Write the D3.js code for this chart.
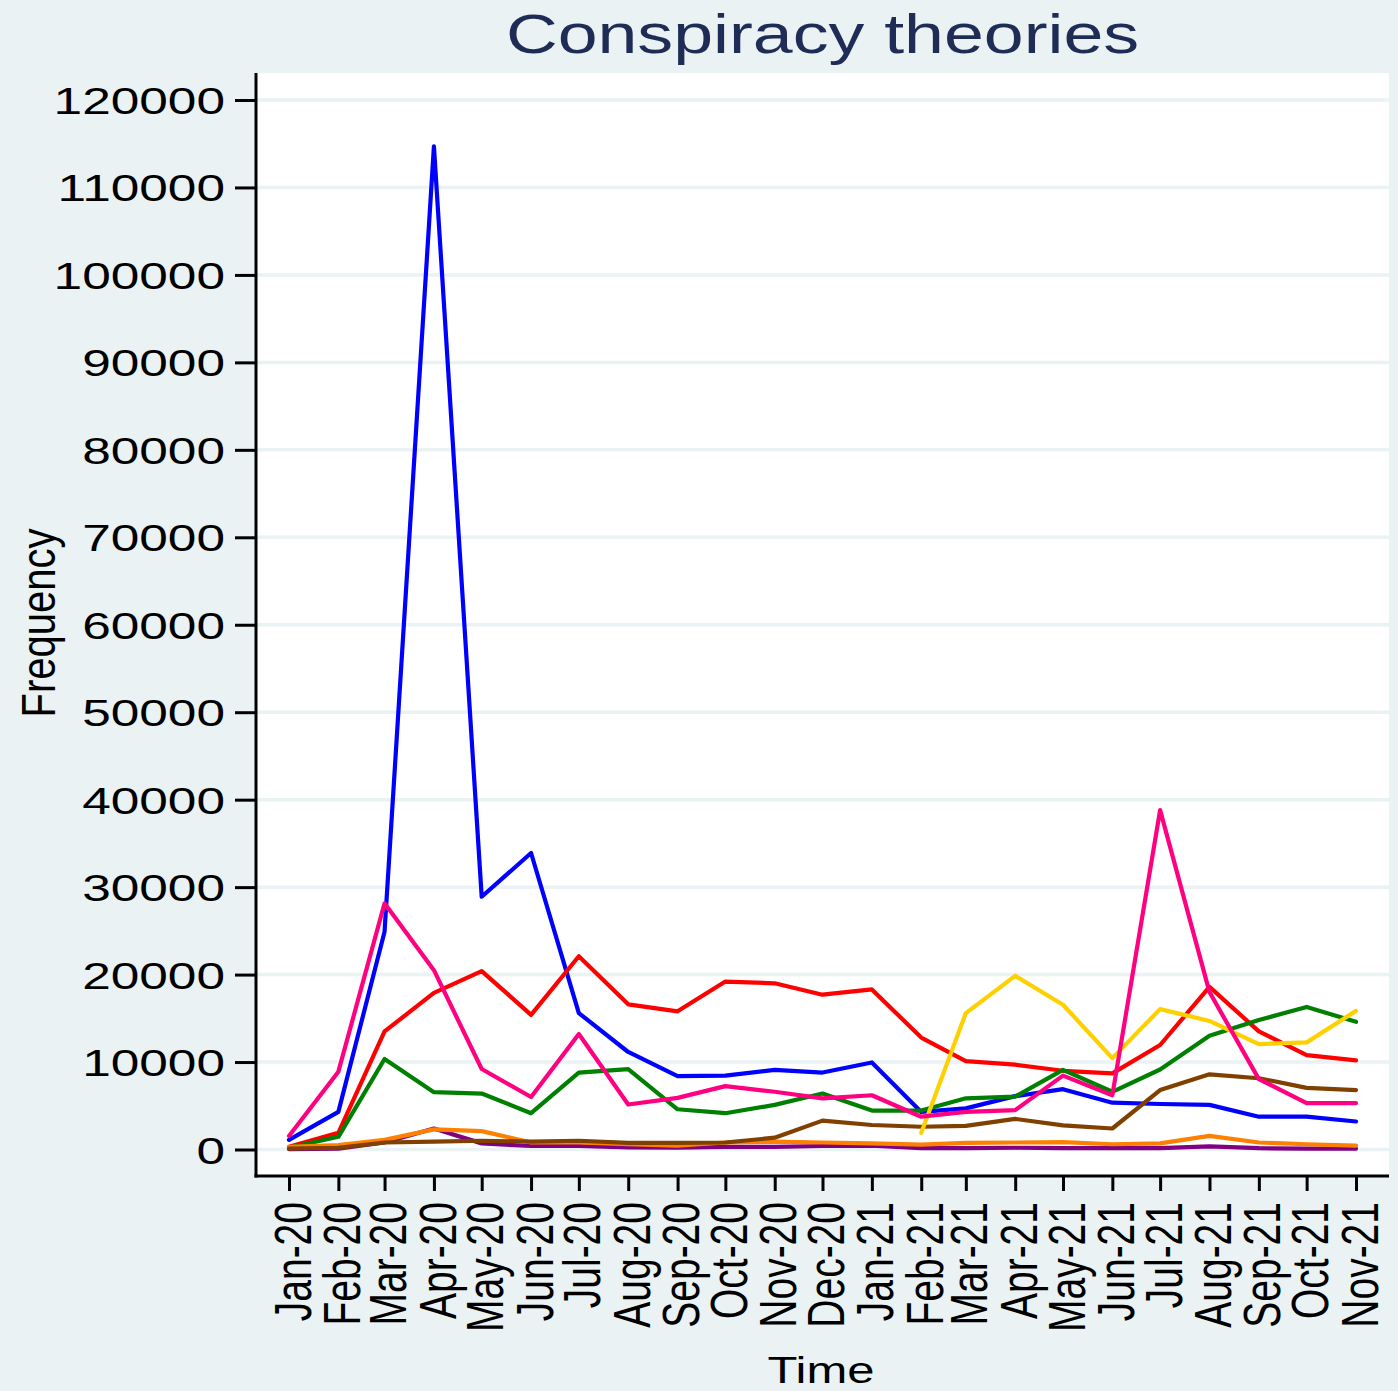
<!DOCTYPE html>
<html>
<head>
<meta charset="utf-8">
<script src="https://cdn.jsdelivr.net/npm/d3@7"></script>
<style>
  body { margin: 0; background: #eaf2f3; }
  text { font-family: "Liberation Sans", Arial, sans-serif; }
</style>
</head>
<body>
<div id="chart"></div>
<script>
// monthly counts
const months = ["Jan-20","Feb-20","Mar-20","Apr-20","May-20","Jun-20","Jul-20","Aug-20","Sep-20","Oct-20","Nov-20","Dec-20",
                "Jan-21","Feb-21","Mar-21","Apr-21","May-21","Jun-21","Jul-21","Aug-21","Sep-21","Oct-21","Nov-21"];
const yTicks = [0,10000,20000,30000,40000,50000,60000,70000,80000,90000,100000,110000,120000];

const blueVals   = [1100,4300,24900,114700,28900,33900,15600,11150,8400,8450,9100,8800,9950,4300,4700,6100,6900,5350,5200,5100,3750,3750,3200];
const redVals    = [300,1900,13500,17900,20400,15400,22100,16600,15800,19200,19000,17700,18300,12800,10100,9700,9000,8700,11950,18600,13500,10800,10200];
const greenVals  = [200,1450,10350,6550,6400,4150,8800,9200,4600,4150,5100,6400,4450,4450,5850,6050,9100,6600,9150,13000,14800,16300,14600];
const purpleVals = [50,100,800,2400,700,400,400,250,200,300,300,400,450,150,150,200,150,150,150,350,150,100,100];
const orangeVals = [300,500,1100,2300,2100,800,800,600,450,800,900,800,700,550,750,800,850,600,700,1550,800,600,450];
const brownVals  = [100,200,800,900,1000,900,1000,750,750,800,1350,3300,2800,2600,2700,3500,2750,2400,6800,8600,8150,7050,6800];
const yellowVals = [null,null,null,null,null,null,null,null,null,null,null,null,null,1900,15600,19850,16550,10450,16050,14700,12050,12250,15850];
const pinkVals   = [1550,8900,28150,20500,9200,6000,13200,5150,5900,7250,6600,5850,6200,3750,4300,4500,8450,6200,38800,18000,8050,5300,5300];

// drawing order: first is at the bottom
const series = [
  { color: "#0000ff", values: blueVals },
  { color: "#ff0000", values: redVals },
  { color: "#008000", values: greenVals },
  { color: "#800080", values: purpleVals },
  { color: "#ff8000", values: orangeVals },
  { color: "#804000", values: brownVals },
  { color: "#ffd000", values: yellowVals },
  { color: "#ff0080", values: pinkVals }
];

const width = 1398, height = 1391;
const plot = { left: 256, right: 1389, top: 73, bottom: 1176 };

const parseMonth = d3.utcParse("%b-%y");
const dates = months.map(parseMonth);

const x = d3.scaleUtc()
  .domain([dates[0], dates[dates.length - 1]])
  .range([289, 1356]);
const y = d3.scaleLinear()
  .domain([0, 120000])
  .range([1149.5, 100]);

const svg = d3.select("#chart").append("svg")
  .attr("width", width)
  .attr("height", height);

svg.append("rect")
  .attr("width", width).attr("height", height)
  .attr("fill", "#eaf2f3");

svg.append("rect")
  .attr("x", plot.left).attr("y", plot.top)
  .attr("width", plot.right - plot.left)
  .attr("height", plot.bottom - plot.top)
  .attr("fill", "#ffffff");

// grid
svg.append("g").attr("id", "grid")
  .selectAll("line")
  .data(yTicks)
  .join("line")
  .attr("x1", plot.left).attr("x2", plot.right)
  .attr("y1", d => y(d)).attr("y2", d => y(d))
  .attr("stroke", "#eaf2f3")
  .attr("stroke-width", 3.5);

// lines
const line = d3.line()
  .defined(d => d.v != null)
  .x(d => x(d.date))
  .y(d => y(d.v));

svg.append("g").attr("id", "lines")
  .selectAll("path")
  .data(series)
  .join("path")
  .attr("d", s => line(s.values.map((v, i) => ({ date: dates[i], v: v }))))
  .attr("fill", "none")
  .attr("stroke", s => s.color)
  .attr("stroke-width", 4.2)
  .attr("stroke-linejoin", "round")
  .attr("stroke-linecap", "round");

// y axis
const yAxis = svg.append("g")
  .attr("transform", `translate(${plot.left},0)`)
  .call(d3.axisLeft(y).tickValues(yTicks).tickSize(21).tickSizeOuter(0).tickFormat(d3.format("d")));
yAxis.select(".domain").remove();
yAxis.selectAll(".tick line").attr("stroke", "#000").attr("stroke-width", 3);
yAxis.selectAll(".tick text")
  .attr("x", null)
  .attr("dy", "0.36em")
  .attr("transform", "translate(-31,0) scale(1.37,1)")
  .attr("font-size", 37.5)
  .attr("font-family", "Liberation Sans, Arial, sans-serif")
  .attr("fill", "#000");
svg.append("line")
  .attr("x1", plot.left).attr("x2", plot.left)
  .attr("y1", plot.top).attr("y2", plot.bottom + 1.5)
  .attr("stroke", "#000").attr("stroke-width", 3);

// x axis
const xAxis = svg.append("g")
  .attr("transform", `translate(0,${plot.bottom})`)
  .call(d3.axisBottom(x).tickValues(dates).tickSize(15).tickSizeOuter(0).tickFormat((d, i) => months[i]));
xAxis.select(".domain").remove();
xAxis.selectAll(".tick line").attr("stroke", "#000").attr("stroke-width", 3);
xAxis.selectAll(".tick text")
  .attr("y", null)
  .attr("dy", "0.41em")
  .attr("text-anchor", "end")
  .attr("transform", "translate(0,26) scale(1.32,1) rotate(-90)")
  .attr("font-size", 39)
  .attr("font-family", "Liberation Sans, Arial, sans-serif")
  .attr("fill", "#000");
svg.append("line")
  .attr("x1", plot.left - 1.5).attr("x2", plot.right)
  .attr("y1", plot.bottom).attr("y2", plot.bottom)
  .attr("stroke", "#000").attr("stroke-width", 3);

// titles
svg.append("text")
  .attr("transform", "translate(822.5,53) scale(1.28,1)")
  .attr("text-anchor", "middle")
  .attr("font-size", 56)
  .attr("fill", "#1f2d56")
  .text("Conspiracy theories");

svg.append("text")
  .attr("transform", "translate(55,623) scale(1.22,1) rotate(-90)")
  .attr("text-anchor", "middle")
  .attr("font-size", 40)
  .attr("fill", "#000")
  .text("Frequency");

svg.append("text")
  .attr("transform", "translate(821,1383) scale(1.3,1)")
  .attr("text-anchor", "middle")
  .attr("font-size", 37.7)
  .attr("fill", "#000")
  .text("Time");
</script>
</body>
</html>
